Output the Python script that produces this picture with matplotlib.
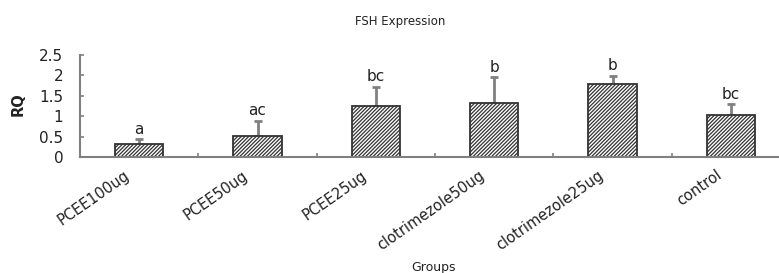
import matplotlib
matplotlib.use("Agg")
import matplotlib.pyplot as plt
import numpy as np

groups = ["PCEE100ug", "PCEE50ug", "PCEE25ug", "clotrimezole50ug", "clotrimezole25ug", "control"]
rq = [0.31, 0.51, 1.26, 1.33, 1.80, 1.03]
err = [0.12, 0.37, 0.45, 0.62, 0.19, 0.26]
letters = ["a", "ac", "bc", "b", "b", "bc"]
yticks = [0, 0.5, 1, 1.5, 2, 2.5]
ytick_labels = ["0", "0.5", "1", "1.5", "2", "2.5"]

plt.rcParams['font.family'] = ['DejaVu Sans']
plt.rcParams['hatch.color'] = '#333333'
plt.rcParams['hatch.linewidth'] = 0.9

W, H = 779, 273
fig = plt.figure(figsize=(W / 100, H / 100), dpi=100)
ax = fig.add_axes([80 / W, 1 - 157 / H, 710 / W, 102 / H])

x = np.arange(len(groups)) + 0.5
ax.bar(x, rq, width=0.41, color='white', edgecolor='#333333', linewidth=1.3,
       hatch='/////////', zorder=2)
ax.errorbar(x, rq, yerr=[np.zeros(len(err)), err], fmt='none', ecolor='#808080',
            elinewidth=2, capsize=3, capthick=2, zorder=1)
for xi, v, e, t in zip(x, rq, err, letters):
    ax.annotate(t, (xi, v + e), xytext=(0, 2), textcoords='offset points',
                ha='center', va='bottom', fontsize=11, color='#222222')

ax.set_xlim(0, 6)
ax.set_ylim(0, 2.5)
ax.set_yticks(yticks)
ax.set_yticklabels(ytick_labels)
# label anchors slightly left of bar centres (ticks themselves are hidden)
ax.set_xticks(x - 0.09)
ax.set_xticklabels(groups, rotation=35, ha='right', va='center', rotation_mode='anchor', fontsize=10.5)
ax.set_xticks(np.arange(0, 7), minor=True)
ax.tick_params(axis='x', which='major', length=0, pad=12, colors='#222222')
ax.tick_params(axis='x', which='minor', length=3, direction='in', color='#808080', width=1.2)
ax.tick_params(axis='y', direction='in', length=3, color='#808080', width=1.2,
               pad=12, labelsize=11, labelcolor='#222222')
for s in ['top', 'right']:
    ax.spines[s].set_visible(False)
for s in ['left', 'bottom']:
    ax.spines[s].set_color('#808080')
    ax.spines[s].set_linewidth(1.5)

fig.text(18 / W, 1 - 104 / H, "RQ", rotation=90, ha='center', va='center', fontsize=10.5,
         fontweight='bold', color='#222222')
fig.text(433 / W, 1 - 268 / H, "Groups", ha='center', va='center', fontsize=9, color='#222222')
fig.text(400 / W, 1 - 22 / H, "FSH Expression", ha='center', va='center', fontsize=8.5, color='#222222')

fig.savefig("out.png", dpi=100)
